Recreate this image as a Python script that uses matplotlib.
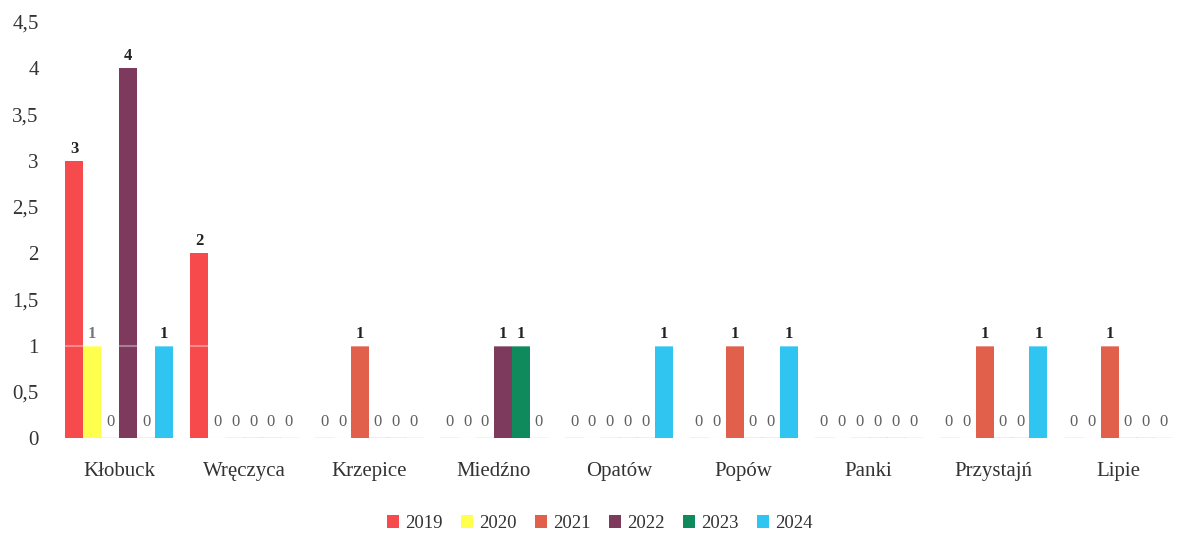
#!/usr/bin/env python3
"""Grouped bar chart: counts per municipality, 2019-2024."""

import matplotlib.pyplot as plt
import numpy as np

categories = ["Kłobuck", "Wręczyca", "Krzepice", "Miedźno", "Opatów",
              "Popów", "Panki", "Przystajń", "Lipie"]
years = ["2019", "2020", "2021", "2022", "2023", "2024"]
v2019 = [3, 2, 0, 0, 0, 0, 0, 0, 0]
v2020 = [1, 0, 0, 0, 0, 0, 0, 0, 0]
v2021 = [0, 0, 1, 0, 0, 1, 0, 1, 1]
v2022 = [4, 0, 0, 1, 0, 0, 0, 0, 0]
v2023 = [0, 0, 0, 1, 0, 0, 0, 0, 0]
v2024 = [1, 0, 0, 0, 1, 1, 0, 1, 0]
series = [v2019, v2020, v2021, v2022, v2023, v2024]
colors = ["#F64A4C", "#FFFF4D", "#E0604C", "#7D3A5C", "#0E8A5C", "#2FC5F0"]
yticks = [0, 0.5, 1, 1.5, 2, 2.5, 3, 3.5, 4, 4.5]
ytick_labels = ["0", "0,5", "1", "1,5", "2", "2,5", "3", "3,5", "4", "4,5"]

plt.rcParams["font.family"] = ["Liberation Serif", "DejaVu Serif"]

fig = plt.figure(figsize=(11.81, 5.33), dpi=100)
ax = fig.add_axes([0.048, 0.178, 0.952, 0.781])

x = np.arange(len(categories))
width = 0.1435
for i, (vals, col, yr) in enumerate(zip(series, colors, years)):
    pos = x + (i - 2.5) * width
    ax.bar(pos, vals, width=width, color=col, label=yr)
    for xp, v in zip(pos, vals):
        if v == 0:
            ax.plot([xp - width / 2, xp + width / 2], [0, 0], color=col,
                    lw=1, alpha=0.5)
            ax.text(xp, 0.17, "0", ha="center", va="center",
                    fontsize=12, color="#606060")
        else:
            ax.text(xp, v + 0.04, str(v), ha="center", va="bottom",
                    fontsize=12, color="#222222" if i != 1 else "#777777",
                    fontweight="bold")

# faint white line across bars at 1
ax.axhline(1, color="white", lw=1.5, alpha=0.35, zorder=3)

ax.set_xlim(-0.5, len(categories) - 0.5)
ax.set_ylim(0, 4.5)
ax.set_yticks(yticks)
ax.set_yticklabels(ytick_labels, fontsize=15, color="#333333")
ax.set_xticks(x)
ax.set_xticklabels(categories, fontsize=15, color="#333333")
ax.tick_params(length=0)
ax.tick_params(axis="x", pad=17)
ax.tick_params(axis="y", pad=13)
for s in ax.spines.values():
    s.set_visible(False)

ax.legend(loc="center", bbox_to_anchor=(0.483, -0.205), ncol=6,
          frameon=False, fontsize=13.5, handlelength=0.65, handleheight=0.65,
          handletextpad=0.3, columnspacing=1.0, labelcolor="#333333")

fig.savefig("out.png", dpi=100)
